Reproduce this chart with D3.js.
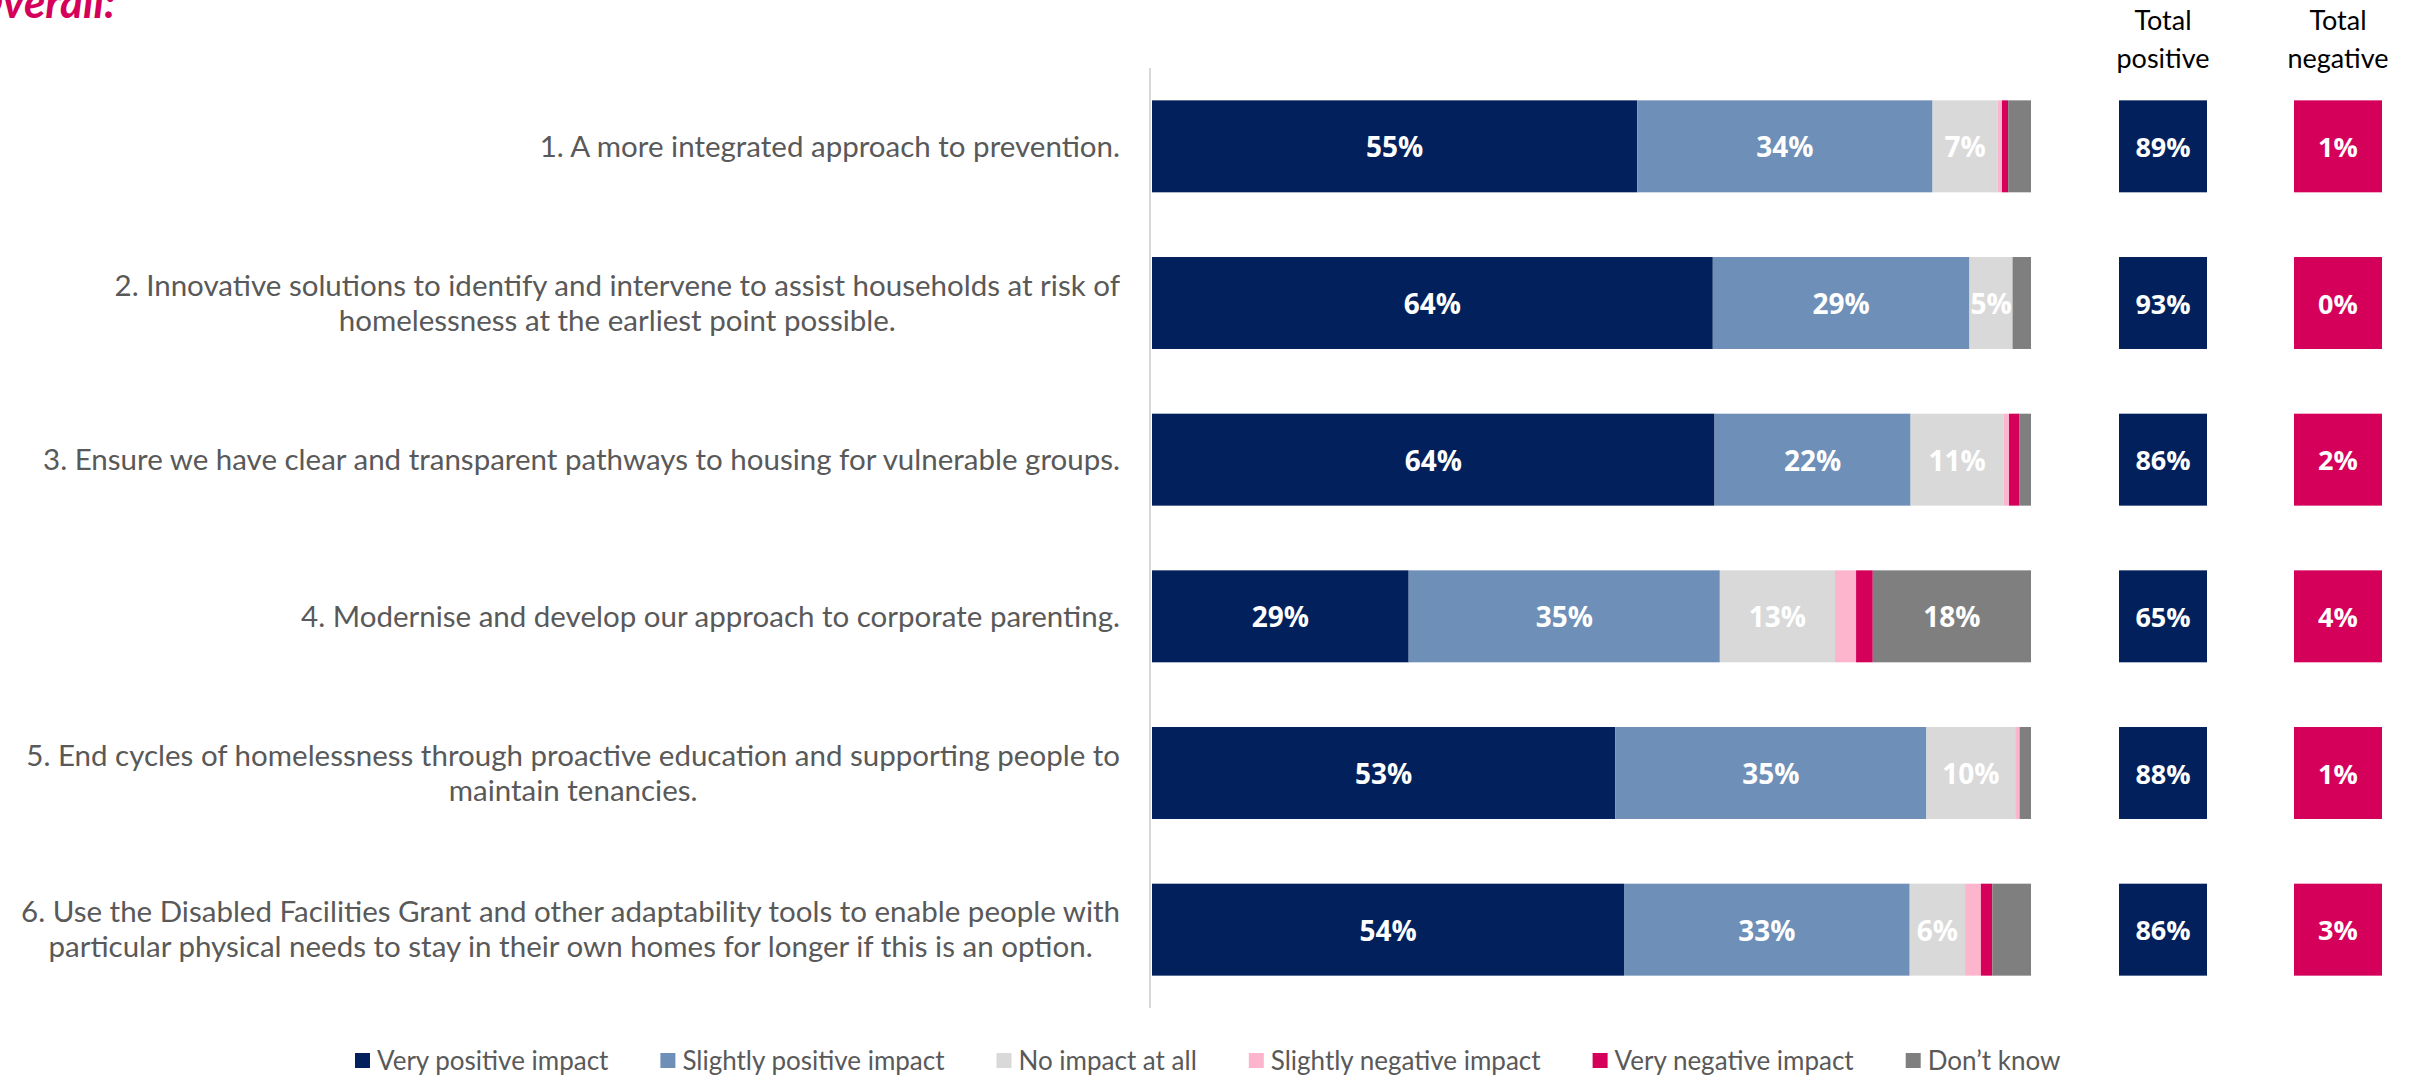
<!DOCTYPE html>
<html><head><meta charset="utf-8">
<script src="https://cdn.jsdelivr.net/npm/d3@7"></script>
<style>
html,body{margin:0;padding:0;background:#fff;overflow:hidden;}
svg{display:block;}
</style></head>
<body>
<svg id="chart" width="2409" height="1076"></svg>
<script>
const categories = [
  "1. A more integrated approach to prevention.",
  "2. Innovative solutions to identify and intervene to assist households at risk of\nhomelessness at the earliest point possible.",
  "3. Ensure we have clear and transparent pathways to housing for vulnerable groups.",
  "4. Modernise and develop our approach to corporate parenting.",
  "5. End cycles of homelessness through proactive education and supporting people to\nmaintain tenancies.",
  "6. Use the Disabled Facilities Grant and other adaptability tools to enable people with\nparticular physical needs to stay in their own homes for longer if this is an option."
];
const seriesNames = ["Very positive impact","Slightly positive impact","No impact at all","Slightly negative impact","Very negative impact","Don\u2019t know"];
const veryPositive     = [55.2, 63.8, 64.0, 29.2, 52.7, 53.7];
const slightlyPositive = [33.6, 29.2, 22.3, 35.4, 35.4, 32.5];
const noImpact         = [ 7.4,  4.9, 10.6, 13.1, 10.1,  6.3];
const slightlyNegative = [ 0.5,  0.0,  0.6,  2.4,  0.5,  1.8];
const veryNegative     = [ 0.7,  0.0,  1.2,  1.9,  0.0,  1.3];
const dontKnow         = [ 2.6,  2.1,  1.3, 18.0,  1.3,  4.4];
const totalPositive = [89, 93, 86, 65, 88, 86];
const totalNegative = [1, 0, 2, 4, 1, 3];
const colors = ["#02215C","#6E8FB7","#D9D9D9","#FDB5CE","#D4005A","#7F7F7F"];

const seriesValues = [veryPositive, slightlyPositive, noImpact, slightlyNegative, veryNegative, dontKnow];
const rows = categories.map((c,i)=>{
  const r = {cat:c};
  seriesNames.forEach((s,j)=> r[s] = seriesValues[j][i]);
  return r;
});

const svg = d3.select("#chart");
const x = d3.scaleLinear().domain([0,100]).range([1152,2031]);
const y = d3.scaleBand().domain(categories).range([68,1008]).paddingInner(0.413).paddingOuter(0.2065);

// title (cut off at top-left, as in the source)
svg.append("text").attr("x",-30).attr("y",18)
  .attr("font-family","Lato, 'Open Sans', sans-serif").attr("font-weight","bold").attr("font-style","italic")
  .attr("font-size",44).attr("fill","#D4005A").text("Overall:");

// axis line
svg.append("line").attr("x1",1150).attr("x2",1150).attr("y1",68).attr("y2",1008)
  .attr("stroke","#D9D9D9").attr("stroke-width",2);

const stack = d3.stack().keys(seriesNames)(rows);

const g = svg.append("g");
stack.forEach((layer,j)=>{
  g.selectAll(null).data(layer).enter().append("rect")
    .attr("x",d=>x(d[0])).attr("y",d=>y(d.data.cat))
    .attr("width",d=>Math.max(0,x(d[1])-x(d[0]))).attr("height",y.bandwidth())
    .attr("fill",colors[j]);
  g.selectAll(null).data(layer.filter(d=>d[1]-d[0]>=4.5)).enter().append("text")
    .attr("x",d=>(x(d[0])+x(d[1]))/2).attr("y",d=>y(d.data.cat)+y.bandwidth()/2)
    .attr("text-anchor","middle").attr("dominant-baseline","central")
    .attr("font-family","'Liberation Sans Narrow', 'Open Sans', sans-serif").attr("font-weight","bold")
    .attr("font-size",28).attr("fill","#fff")
    .text(d=>Math.round(d[1]-d[0])+"%");
});

// category labels: block right-aligned, lines centered within block
const lab = svg.append("g");
categories.forEach(c=>{
  const lines = c.split("\n");
  const cy = y(c)+y.bandwidth()/2;
  const lh = 35;
  const t = lab.append("text").attr("text-anchor","middle")
    .attr("font-family","Lato, 'Open Sans', sans-serif").attr("font-size",29.5).attr("fill","#595959");
  const spans = lines.map((ln,k)=> t.append("tspan").attr("y",cy+(k-(lines.length-1)/2)*lh).attr("dy","0.35em").text(ln));
  const maxW = d3.max(spans, s=>s.node().getComputedTextLength());
  spans.forEach(s=>s.attr("x",1120-maxW/2));
});

// totals
const boxW = 88;
const totals = [
  {title:["Total","positive"], vals:totalPositive, cx:2163, color:"#02215C"},
  {title:["Total","negative"], vals:totalNegative, cx:2338, color:"#D4005A"}
];
totals.forEach(tt=>{
  tt.title.forEach((ln,k)=>{
    svg.append("text").attr("x",tt.cx).attr("y",30+k*38).attr("text-anchor","middle")
      .attr("font-family","Lato, 'Open Sans', sans-serif").attr("font-size",27).attr("fill","#000").text(ln);
  });
  categories.forEach((c,i)=>{
    svg.append("rect").attr("x",tt.cx-boxW/2).attr("y",y(c)).attr("width",boxW).attr("height",y.bandwidth())
      .attr("fill",tt.color);
    svg.append("text").attr("x",tt.cx).attr("y",y(c)+y.bandwidth()/2).attr("text-anchor","middle")
      .attr("dominant-baseline","central").attr("font-family","'Open Sans', sans-serif").attr("font-weight","bold")
      .attr("font-size",27).attr("fill","#fff").text(tt.vals[i]+"%");
  });
});

// legend
const leg = svg.append("g");
let lx = 355;
seriesNames.forEach((s,j)=>{
  leg.append("rect").attr("x",lx).attr("y",1053).attr("width",15).attr("height",15).attr("fill",colors[j]);
  const t = leg.append("text").attr("x",lx+22).attr("y",1060).attr("dominant-baseline","central")
    .attr("font-family","Lato, 'Open Sans', sans-serif").attr("font-size",26).attr("fill","#595959").text(s);
  lx += 22 + t.node().getComputedTextLength() + 52;
});
</script>
</body></html>
